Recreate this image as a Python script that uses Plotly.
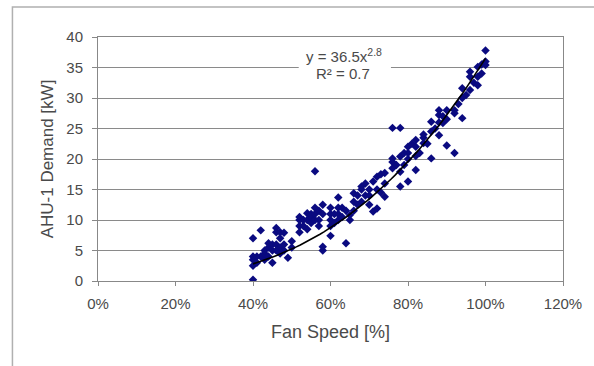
import plotly.graph_objects as go
import numpy as np

# Fan speed (fraction) and AHU-1 demand (kW)
fan_speed = [
    0.40, 0.40, 0.40, 0.40, 0.40, 0.41, 0.41, 0.42, 0.42, 0.43, 0.43, 0.43,
    0.44, 0.44, 0.44, 0.45, 0.45, 0.45, 0.46, 0.46, 0.46, 0.46, 0.47, 0.47,
    0.47, 0.47, 0.48, 0.48, 0.48, 0.49, 0.50, 0.50,
    0.52, 0.52, 0.52, 0.52, 0.53, 0.53, 0.54, 0.54, 0.54, 0.55, 0.55, 0.55,
    0.56, 0.56, 0.56, 0.56, 0.57, 0.57, 0.57, 0.58, 0.58, 0.58, 0.58,
    0.60, 0.60, 0.60, 0.60, 0.60, 0.61, 0.61, 0.62, 0.62, 0.62, 0.62, 0.63,
    0.63, 0.64, 0.64, 0.65, 0.65, 0.66, 0.66, 0.66, 0.67, 0.67, 0.68, 0.68,
    0.68, 0.69, 0.69, 0.70, 0.70, 0.70, 0.71, 0.71, 0.72, 0.72, 0.72, 0.73,
    0.73, 0.74, 0.74, 0.74, 0.76, 0.76, 0.76, 0.76, 0.77, 0.78, 0.78, 0.78,
    0.78, 0.79, 0.79, 0.80, 0.80, 0.80, 0.80, 0.81, 0.82, 0.82, 0.82, 0.82,
    0.83, 0.84, 0.84, 0.84, 0.85, 0.86, 0.86, 0.86, 0.87, 0.88, 0.88, 0.88,
    0.88, 0.89, 0.89, 0.90, 0.90, 0.90, 0.92, 0.92, 0.92, 0.93, 0.94, 0.94,
    0.94, 0.95, 0.96, 0.96, 0.96, 0.97, 0.98, 0.98, 0.98, 0.99, 0.99, 1.00,
    1.00, 1.00,
]
demand_kw = [
    0.2, 2.5, 3.5, 4.0, 7.0, 3.0, 4.0, 4.0, 8.3, 3.5, 4.5, 5.0,
    4.0, 5.5, 6.2, 3.0, 5.0, 6.0, 5.0, 6.0, 8.0, 8.7, 4.5, 5.5,
    7.0, 8.0, 5.0, 6.0, 7.9, 3.8, 5.5, 6.5,
    8.0, 9.0, 10.0, 10.5, 9.0, 10.0, 8.5, 10.0, 11.1, 9.5, 10.5, 11.0,
    10.0, 11.0, 12.0, 18.0, 9.0, 10.0, 11.5, 5.0, 5.6, 11.0, 12.5,
    7.4, 9.0, 10.0, 11.0, 12.0, 9.5, 11.0, 10.0, 11.0, 12.0, 13.7, 10.5,
    12.0, 6.2, 11.5, 10.0, 10.8, 11.5, 13.0, 14.4, 12.5, 14.0, 13.0, 15.0,
    15.5, 14.0, 16.0, 12.5, 14.0, 15.0, 11.4, 16.3, 11.9, 15.0, 17.1, 14.5,
    17.5, 13.8, 16.0, 17.7, 18.5, 19.5, 20.1, 25.1, 19.0, 15.5, 17.9, 20.4,
    25.1, 19.0, 21.0, 16.3, 20.0, 21.0, 22.0, 22.5, 18.2, 20.5, 22.0, 23.1,
    21.0, 22.6, 23.5, 24.0, 22.5, 20.1, 24.5, 26.1, 25.0, 23.9, 26.0, 27.2,
    28.0, 25.9, 27.0, 22.2, 26.5, 28.0, 21.0, 27.5, 28.0, 29.0, 26.7, 30.0,
    31.6, 30.5, 31.3, 33.5, 34.3, 32.5, 32.1, 33.5, 35.1, 34.0, 35.5, 35.4,
    36.0, 37.8,
]

# Power-law trendline y = 36.5 x^2.8
coef_a = 36.5
coef_b = 2.8
trend_x = np.linspace(min(fan_speed), max(fan_speed), 60)
trend_y = coef_a * trend_x ** coef_b

fig = go.Figure()
fig.add_trace(go.Scatter(
    x=fan_speed, y=demand_kw, mode="markers",
    marker=dict(symbol="diamond", size=6.5, color="#0a0a80"),
    showlegend=False,
))
fig.add_trace(go.Scatter(
    x=trend_x, y=trend_y, mode="lines",
    line=dict(color="#000000", width=1.6),
    showlegend=False,
))

grey = "#4a4a4a"
fig.update_layout(
    width=594, height=366,
    margin=dict(l=98, r=28, t=37, b=85),
    paper_bgcolor="white", plot_bgcolor="white",
    font=dict(family="Liberation Sans, Arial, sans-serif", size=15, color=grey),
    xaxis=dict(
        range=[0, 1.2], dtick=0.2, tickformat=".0%",
        showgrid=False, zeroline=False,
        showline=True, linecolor="#888888", linewidth=1, mirror=True,
        ticks="outside", ticklen=4, tickcolor="#888888",
        ticklabelstandoff=5,
        title=dict(text="Fan Speed [%]", font=dict(size=18, color=grey), standoff=14),
        tickfont=dict(size=15, color=grey),
    ),
    yaxis=dict(
        range=[0, 40], dtick=5,
        showgrid=True, gridcolor="#8a8a8a", gridwidth=1, zeroline=False,
        showline=True, linecolor="#888888", linewidth=1, mirror=True,
        ticks="outside", ticklen=5, tickcolor="#888888",
        ticklabelstandoff=6,
        title=dict(text="AHU-1 Demand [kW]", font=dict(size=17, color=grey), standoff=8),
        tickfont=dict(size=15, color=grey),
    ),
    shapes=[
        dict(
            type="rect", xref="paper", yref="paper",
            x0=-0.184, x1=1.08, y0=-0.37, y1=1.123,
            line=dict(color="#b0b0b0", width=1.5), fillcolor="rgba(0,0,0,0)",
            layer="below",
        ),
        dict(
            type="rect", xref="x", yref="y",
            x0=0.518, x1=0.756, y0=33.0, y1=38.0,
            line=dict(width=0), fillcolor="white",
            layer="between",
        ),
    ],
    annotations=[
        dict(
            x=0.636, y=36.95, xref="x", yref="y",
            text="y = 36.5x<sup>2.8</sup>",
            showarrow=False,
            font=dict(size=15, color=grey), align="center",
        ),
        dict(
            x=0.632, y=34.05, xref="x", yref="y",
            text="R² = 0.7",
            showarrow=False,
            font=dict(size=15, color=grey), align="center",
        ),
    ],
)

fig.write_html("out.html", post_script="document.body.style.margin='0';",
               config={"displayModeBar": False})
